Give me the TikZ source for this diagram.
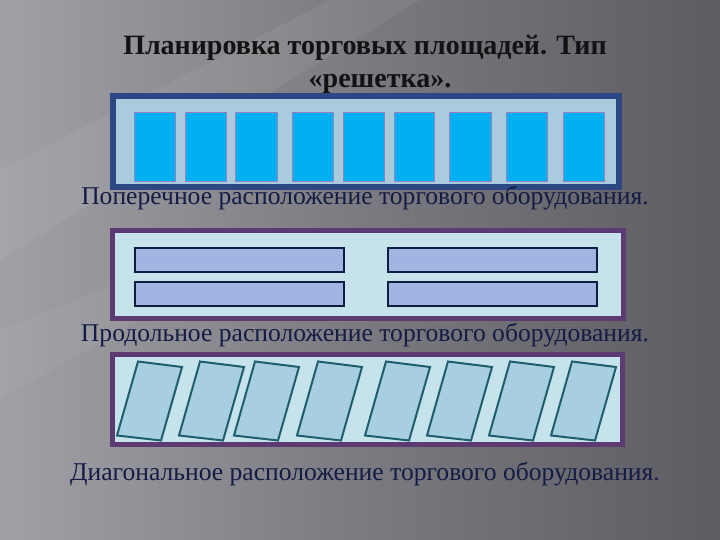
\documentclass[tikz,border=0pt]{standalone}
\usepackage{fontspec}
\setmainfont{Liberation Serif}
\definecolor{bgL}{HTML}{A0A0A6}
\definecolor{bgM}{HTML}{7A7A80}
\definecolor{bgR}{HTML}{5C5C62}
\definecolor{pOneBorder}{HTML}{2C4884}
\definecolor{pOneFill}{HTML}{A8CCDE}
\definecolor{cyanRect}{HTML}{00B0F0}
\definecolor{cyanEdge}{HTML}{9A80C0}
\definecolor{purpleBorder}{HTML}{5C3A72}
\definecolor{paleFill}{HTML}{C6E3EC}
\definecolor{barFill}{HTML}{A2B4E2}
\definecolor{barEdge}{HTML}{0E1E40}
\definecolor{diagFill}{HTML}{A8CFE0}
\definecolor{diagEdge}{HTML}{1E5E6E}
\definecolor{titleCol}{HTML}{121212}
\definecolor{capCol}{HTML}{141C44}
\tikzset{
  panelOne/.style={draw=pOneBorder, line width=6pt, fill=pOneFill},
  panelTwo/.style={draw=purpleBorder, line width=5pt, fill=paleFill},
  cyanbox/.style={draw=cyanEdge, line width=1pt, fill=cyanRect},
  barbox/.style={draw=barEdge, line width=2pt, fill=barFill},
  diagbox/.style={draw=diagEdge, line width=2pt, fill=diagFill, line join=miter},
  titletext/.style={font=\fontsize{28}{31}\selectfont\bfseries, text=titleCol, inner sep=0pt, anchor=base},
  captext/.style={font=\fontsize{25.6}{28}\selectfont, text=capCol, inner sep=0pt, anchor=base},
}
\begin{document}
\begin{tikzpicture}[x=1pt, y=-1pt]
\useasboundingbox (0,0) rectangle (720,540);
% background
\shade[left color=bgL, right color=bgR, middle color=bgM] (0,0) rectangle (720,540);
\fill[white, opacity=0.06] (0,170) -- (330,0) -- (420,0) -- (0,260) -- cycle;
\fill[white, opacity=0.04] (0,330) -- (200,250) -- (260,250) -- (0,400) -- cycle;

% title
\node[titletext] (t1) at (365,55) {Планировка торговых площадей. Тип};
\node[titletext] (t2) at (380,88) {«решетка».};

% panel 1
\draw[panelOne] (113,96) rectangle (619,187);
\foreach \a/\b in {134.5/175, 185/226, 235.5/277, 292/333, 343/384.5, 394/434.5, 449/491, 506/547, 563/604}
  \draw[cyanbox] (\a,113) rectangle (\b,182);
\node[captext] (c1) at (365,205) {Поперечное расположение торгового оборудования.};

% panel 2
\draw[panelTwo] (112.5,230.5) rectangle (623.5,318.5);
\draw[barbox] (134.5,248) rectangle (344,272);
\draw[barbox] (388,248) rectangle (596.5,272);
\draw[barbox] (134.5,282) rectangle (344,306);
\draw[barbox] (388,282) rectangle (596.5,306);
\node[captext] (c2) at (365,341) {Продольное расположение торгового оборудования.};

% panel 3
\draw[panelTwo] (112.5,354.5) rectangle (622.5,444.5);
\foreach \x in {138, 200, 255, 318, 386, 448, 510, 572}
  \draw[diagbox] (\x,361.5) -- (\x+44,367) -- (\x+23,440.5) -- (\x-21,435.5) -- cycle;
\node[captext] (c3) at (365,480) {Диагональное расположение торгового оборудования.};
\end{tikzpicture}
\end{document}
